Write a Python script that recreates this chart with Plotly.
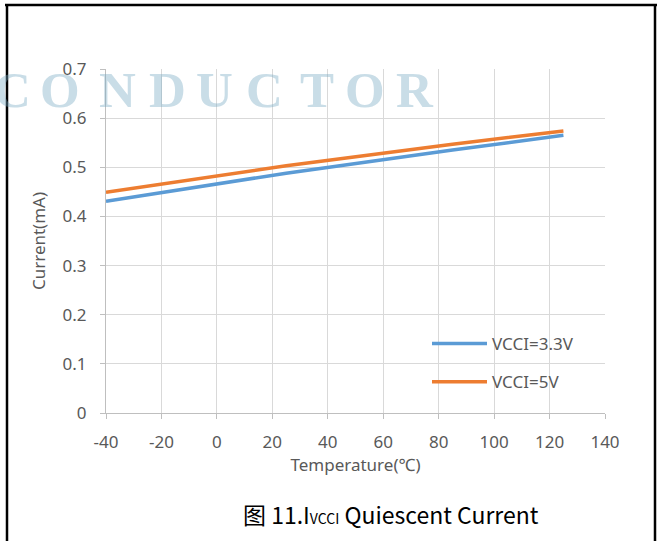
import plotly.graph_objects as go

temperature = [-40, 25, 85, 125]
current_33v = [0.431, 0.488, 0.535, 0.565]
current_5v = [0.449, 0.503, 0.547, 0.574]
series_names = ["VCCI=3.3V", "VCCI=5V"]
x_ticks = [-40, -20, 0, 20, 40, 60, 80, 100, 120, 140]
x_tick_labels = ["-40", "-20", "0", "20", "40", "60", "80", "100", "120", "140"]
y_ticks = [0, 0.1, 0.2, 0.3, 0.4, 0.5, 0.6, 0.7]
y_tick_labels = ["0", "0.1", "0.2", "0.3", "0.4", "0.5", "0.6", "0.7"]
watermark = list("CONDUCTOR")

W, H = 663, 541
L, R, T, B = 106, 58, 69, 128
pw, ph = W - L - R, H - T - B

def px(x):
    return (x - L) / pw

def py(y):
    return (H - B - y) / ph

grey = "#595959"
tick_font = dict(family="Noto Sans", size=17, color=grey)

fig = go.Figure()
fig.add_trace(go.Scatter(x=temperature, y=current_33v, mode="lines", name=series_names[0],
                         line=dict(color="#5b9bd5", width=3.5), legendgroup="a"))
fig.add_trace(go.Scatter(x=temperature, y=current_5v, mode="lines", name=series_names[1],
                         line=dict(color="#ed7d31", width=3.5), legendgroup="b"))

annotations = []
centers = [12, 60, 117, 167, 214, 264, 317, 365, 415]
for ch, cx in zip(watermark, centers):
    annotations.append(dict(text=ch, x=px(cx), y=py(90), xref="paper", yref="paper",
                            showarrow=False, xanchor="center", yanchor="middle",
                            font=dict(family="Liberation Serif", size=51, weight="bold",
                                      color="rgba(120,170,195,0.4)")))
annotations.append(dict(text="图 11.I<span style='font-size:14px'>VCCI</span> Quiescent Current",
                        x=px(391), y=py(514),
                        xref="paper", yref="paper", showarrow=False, xanchor="center", yanchor="middle",
                        font=dict(family="Noto Sans CJK SC", size=23, color="#000000")))

shapes = [
    dict(type="line", xref="paper", yref="paper", x0=px(7), x1=px(7), y0=py(4), y1=py(560),
         line=dict(color="black", width=2.5)),
    dict(type="line", xref="paper", yref="paper", x0=px(655), x1=px(655), y0=py(4), y1=py(560),
         line=dict(color="black", width=2.5)),
    dict(type="line", xref="paper", yref="paper", x0=px(5), x1=px(657), y0=py(5), y1=py(5),
         line=dict(color="black", width=2.5)),
]

fig.update_layout(
    width=W, height=H,
    margin=dict(l=L, r=R, t=T, b=B, pad=0),
    paper_bgcolor="white", plot_bgcolor="white",
    font=dict(family="Noto Sans", size=17, color=grey),
    showlegend=True,
    legend=dict(x=px(427), y=py(326), xanchor="left", yanchor="top", bgcolor="rgba(0,0,0,0)",
                font=dict(family="Noto Sans", size=17, color=grey),
                itemwidth=55, tracegroupgap=13),
    annotations=annotations,
    shapes=shapes,
)
fig.update_xaxes(range=[-40, 140], tickvals=x_ticks, ticktext=x_tick_labels, showgrid=True,
                 gridcolor="#d9d9d9", gridwidth=1.3,
                 zeroline=False, showline=True, linecolor="#bfbfbf", linewidth=1.3,
                 ticks="outside", ticklen=5, tickcolor="#bfbfbf", tickfont=tick_font, ticklabelstandoff=8,
                 title=dict(text="Temperature(℃)", font=dict(family="Noto Sans", size=17, color=grey), standoff=4))
fig.update_yaxes(range=[0, 0.7], tickvals=y_ticks, ticktext=y_tick_labels, showgrid=True, gridcolor="#d9d9d9",
                 gridwidth=1.3, zeroline=False, showline=True, linecolor="#bfbfbf", linewidth=1.3,
                 ticks="outside", ticklen=5, tickcolor="#bfbfbf", tickfont=tick_font, ticklabelstandoff=10,
                 title=dict(text="Current(mA)", font=dict(family="Noto Sans", size=17, color=grey), standoff=12))

fig.write_html("out.html", config={"displayModeBar": False},
               post_script="document.body.style.margin='0';document.body.style.overflow='hidden';")
